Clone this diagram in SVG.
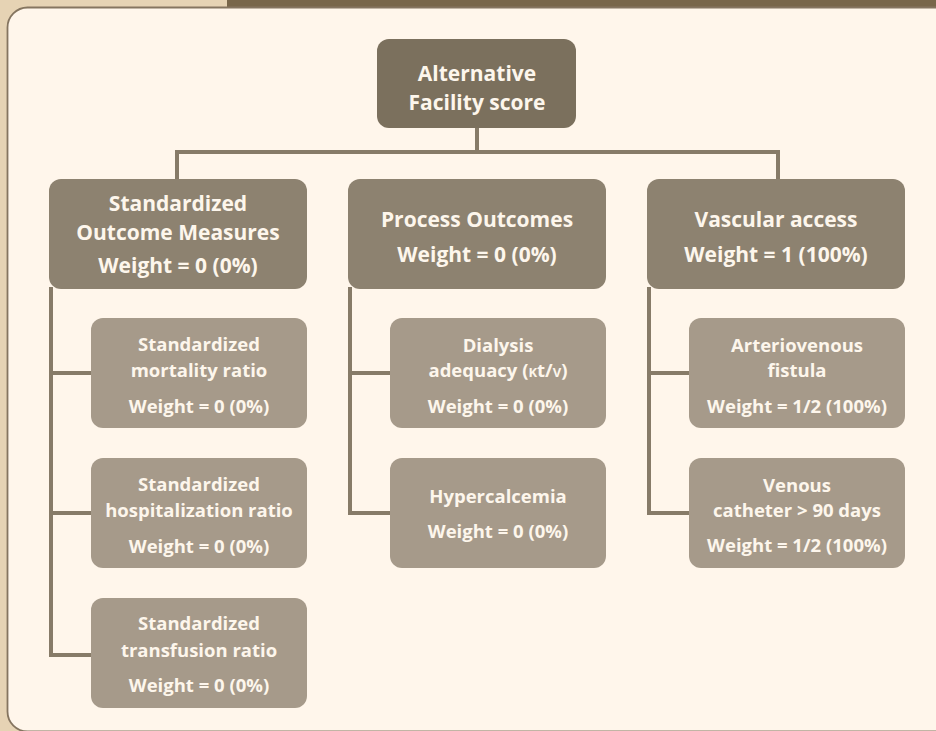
<svg xmlns="http://www.w3.org/2000/svg" width="936" height="731" viewBox="0 0 936 731">
<style>
.t{font-family:"Open Sans","Liberation Sans",sans-serif;font-weight:700;fill:#fdf6ec;text-anchor:middle}
.t1{font-size:21px}
.t2{font-size:21px}
.t3{font-size:18.5px}
.n0{fill:#7b705d}
.n1{fill:#8d8270}
.n2{fill:#a69a8a}
.c{fill:none;stroke:#877b68;stroke-width:4;stroke-linejoin:miter}
.sc{font-variant:small-caps}
</style>
<rect x="0" y="0" width="936" height="731" fill="#e6d3b4"/>
<rect x="227" y="0" width="709" height="8" fill="#78664a"/>
<rect x="7.5" y="7.5" width="980" height="724" rx="20" ry="20" fill="#fff6eb" stroke="#857560" stroke-width="1.8"/>
<g id="connectors">
<path class="c" d="M477,128 V152 M177,179 V152 H778 V179"/>
<path class="c" d="M51,287 V655 H91 M51,373 H91 M51,513 H91"/>
<path class="c" d="M350,287 V513 H390 M350,373 H390"/>
<path class="c" d="M649,287 V513 H689 M649,373 H689"/>
</g>
<g id="root">
<rect class="n0" x="377" y="39" width="199" height="89" rx="12"/>
<text class="t t1" x="477" y="81">Alternative</text>
<text class="t t1" x="477" y="110">Facility score</text>
</g>
<g id="standardized-outcome">
<rect class="n1" x="49" y="179" width="258" height="110" rx="12"/>
<text class="t t2" x="178" y="211">Standardized</text>
<text class="t t2" x="178" y="240">Outcome Measures</text>
<text class="t t2" x="178" y="273">Weight = 0 (0%)</text>
</g>
<g id="process-outcomes">
<rect class="n1" x="348" y="179" width="258" height="110" rx="12"/>
<text class="t t2" x="477" y="227">Process Outcomes</text>
<text class="t t2" x="477" y="262">Weight = 0 (0%)</text>
</g>
<g id="vascular-access">
<rect class="n1" x="647" y="179" width="258" height="110" rx="12"/>
<text class="t t2" x="776" y="227">Vascular access</text>
<text class="t t2" x="776" y="262">Weight = 1 (100%)</text>
</g>
<g id="mortality">
<rect class="n2" x="91" y="318" width="216" height="110" rx="12"/>
<text class="t t3" x="199" y="351">Standardized</text>
<text class="t t3" x="199" y="377">mortality ratio</text>
<text class="t t3" x="199" y="413">Weight = 0 (0%)</text>
</g>
<g id="hospitalization">
<rect class="n2" x="91" y="458" width="216" height="110" rx="12"/>
<text class="t t3" x="199" y="491">Standardized</text>
<text class="t t3" x="199" y="517">hospitalization ratio</text>
<text class="t t3" x="199" y="553">Weight = 0 (0%)</text>
</g>
<g id="transfusion">
<rect class="n2" x="91" y="598" width="216" height="110" rx="12"/>
<text class="t t3" x="199" y="630">Standardized</text>
<text class="t t3" x="199" y="657">transfusion ratio</text>
<text class="t t3" x="199" y="692">Weight = 0 (0%)</text>
</g>
<g id="dialysis">
<rect class="n2" x="390" y="318" width="216" height="110" rx="12"/>
<text class="t t3" x="498" y="352">Dialysis</text>
<text class="t t3" x="498" y="377">adequacy (<tspan class="sc">k</tspan>t/<tspan class="sc">v</tspan>)</text>
<text class="t t3" x="498" y="413">Weight = 0 (0%)</text>
</g>
<g id="hypercalcemia">
<rect class="n2" x="390" y="458" width="216" height="110" rx="12"/>
<text class="t t3" x="498" y="503">Hypercalcemia</text>
<text class="t t3" x="498" y="538">Weight = 0 (0%)</text>
</g>
<g id="fistula">
<rect class="n2" x="689" y="318" width="216" height="110" rx="12"/>
<text class="t t3" x="797" y="352">Arteriovenous</text>
<text class="t t3" x="797" y="377">fistula</text>
<text class="t t3" x="797" y="413">Weight = 1/2 (100%)</text>
</g>
<g id="catheter">
<rect class="n2" x="689" y="458" width="216" height="110" rx="12"/>
<text class="t t3" x="797" y="492">Venous</text>
<text class="t t3" x="797" y="517">catheter &gt; 90 days</text>
<text class="t t3" x="797" y="552">Weight = 1/2 (100%)</text>
</g>
</svg>
